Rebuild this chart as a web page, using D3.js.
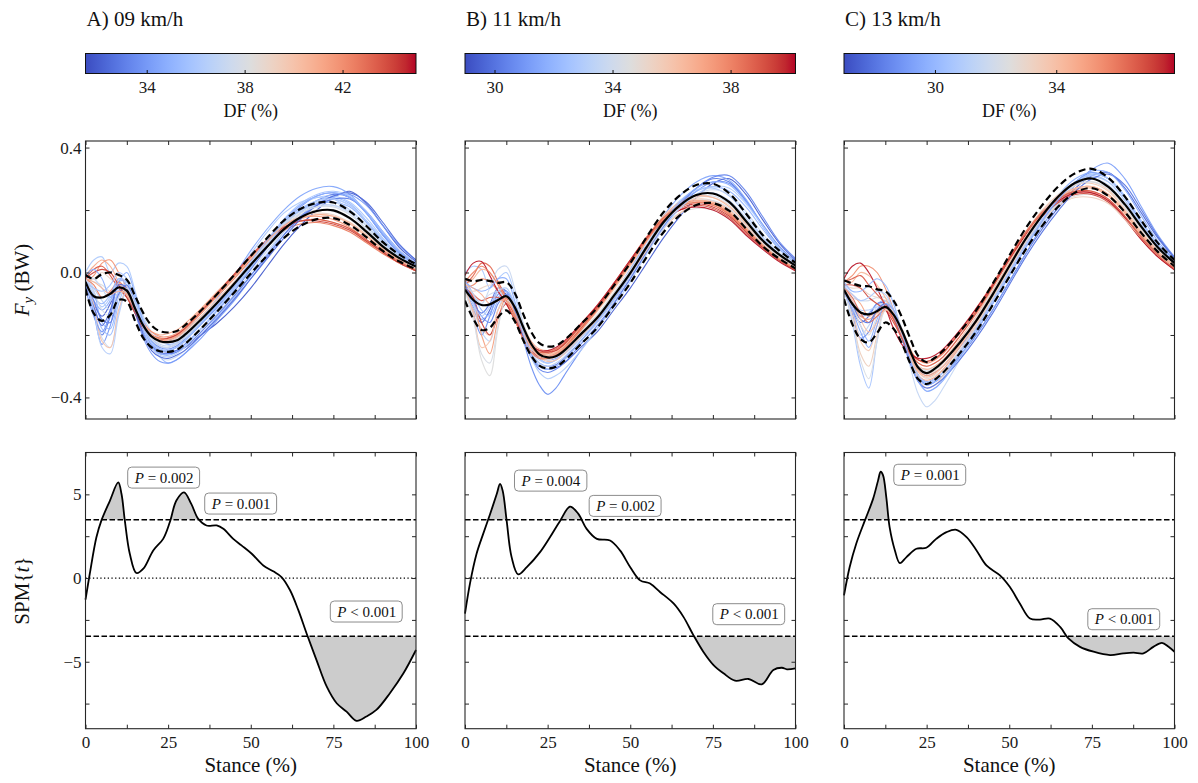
<!DOCTYPE html>
<html>
<head>
<meta charset="utf-8">
<script src="https://cdn.jsdelivr.net/npm/d3@7"></script>
<style>
  html, body { margin: 0; padding: 0; background: #ffffff; }
  svg, svg text { font-family: "Liberation Serif", "Times New Roman", Times, "DejaVu Serif", serif; }
</style>
</head>
<body>
<svg id="fig" width="1198" height="783"></svg>
<script>
// ---------------- data ----------------
const speedTitles = ["A) 09 km/h", "B) 11 km/h", "C) 13 km/h"];

// dorsiflexion colour ranges and ticks
const dfRangeA = [31.5, 45.0], dfRangeB = [29.0, 40.2], dfRangeC = [27.0, 37.9];
const dfTicksA = [34, 38, 42], dfTicksB = [30, 34, 38], dfTicksC = [30, 34];

// normalised stance (%) used by the force curves
const stanceGrid = [0, 2.5, 5, 7.5, 10, 12.5, 15, 17.5, 20, 22.5, 25, 27.5, 30, 35, 40, 45, 50, 55, 60, 65, 70, 75, 80, 85, 90, 95, 100];

// group mean and SD of Fy (BW)
const meanA = [-0.030,-0.076,-0.080,-0.068,-0.048,-0.058,-0.115,-0.170,-0.205,-0.220,-0.223,-0.218,-0.200,-0.150,-0.095,-0.036,0.025,0.083,0.138,0.176,0.197,0.199,0.174,0.131,0.083,0.046,0.019];
const sdA   = [0.022,0.055,0.075,0.068,0.040,0.035,0.040,0.040,0.035,0.032,0.031,0.030,0.030,0.029,0.028,0.028,0.028,0.028,0.028,0.027,0.026,0.025,0.022,0.018,0.014,0.011,0.008];
const meanB = [-0.055,-0.088,-0.104,-0.102,-0.088,-0.076,-0.110,-0.172,-0.228,-0.262,-0.272,-0.268,-0.250,-0.198,-0.145,-0.075,-0.002,0.082,0.160,0.215,0.248,0.253,0.225,0.165,0.103,0.058,0.022];
const sdB   = [0.035,0.060,0.080,0.075,0.055,0.045,0.045,0.042,0.038,0.036,0.035,0.034,0.033,0.032,0.032,0.032,0.032,0.032,0.032,0.032,0.032,0.031,0.028,0.024,0.018,0.013,0.009];
const meanC = [-0.055,-0.100,-0.128,-0.134,-0.124,-0.110,-0.135,-0.185,-0.250,-0.305,-0.322,-0.308,-0.285,-0.225,-0.155,-0.070,0.020,0.108,0.183,0.245,0.287,0.301,0.274,0.218,0.146,0.080,0.030];
const sdC   = [0.030,0.065,0.085,0.090,0.070,0.050,0.045,0.042,0.040,0.037,0.035,0.035,0.035,0.034,0.034,0.034,0.034,0.034,0.033,0.032,0.031,0.031,0.029,0.025,0.020,0.014,0.010];

// individual runners: dorsiflexion (%) and Fy (BW) over the stance grid
const dfA = [32.0, 33.0, 33.8, 34.5, 35.0, 35.5, 36.2, 36.8, 37.3, 38.2, 39.0, 40.0, 41.0, 41.8, 42.5, 43.5, 34.0, 36.0, 35.2, 37.0, 33.2, 44.0, 32.5, 34.8, 36.5, 37.8, 40.8, 35.8];
const fyA = [
  [-0.02,-0.10,-0.14,-0.10,-0.05,-0.07,-0.13,-0.19,-0.23,-0.25,-0.255,-0.25,-0.24,-0.20,-0.16,-0.11,-0.05,0.02,0.09,0.15,0.20,0.24,0.26,0.22,0.15,0.08,0.035],
  [-0.01,-0.12,-0.20,-0.14,-0.04,-0.05,-0.12,-0.19,-0.24,-0.26,-0.26,-0.25,-0.23,-0.18,-0.12,-0.06,0.01,0.08,0.15,0.20,0.23,0.25,0.24,0.19,0.12,0.065,0.03],
  [-0.03,-0.13,-0.23,-0.17,-0.06,-0.04,-0.10,-0.17,-0.22,-0.24,-0.245,-0.235,-0.215,-0.165,-0.11,-0.05,0.02,0.09,0.16,0.21,0.245,0.255,0.24,0.19,0.12,0.06,0.025],
  [-0.04,-0.09,-0.12,-0.09,-0.03,-0.03,-0.09,-0.16,-0.21,-0.235,-0.24,-0.23,-0.21,-0.15,-0.08,-0.01,0.07,0.14,0.20,0.245,0.27,0.275,0.25,0.19,0.12,0.065,0.03],
  [-0.02,-0.06,-0.16,-0.18,-0.08,-0.03,-0.08,-0.15,-0.20,-0.22,-0.23,-0.225,-0.21,-0.16,-0.10,-0.04,0.03,0.10,0.16,0.20,0.22,0.225,0.21,0.16,0.10,0.05,0.02],
  [-0.03,-0.10,-0.18,-0.20,-0.10,-0.04,-0.09,-0.17,-0.23,-0.27,-0.29,-0.28,-0.26,-0.20,-0.14,-0.08,-0.01,0.06,0.13,0.19,0.23,0.24,0.22,0.165,0.10,0.05,0.02],
  [0.00,0.04,0.05,0.00,0.03,0.02,-0.06,-0.15,-0.20,-0.22,-0.22,-0.21,-0.19,-0.13,-0.07,-0.01,0.06,0.13,0.19,0.225,0.24,0.235,0.20,0.15,0.09,0.045,0.015],
  [-0.01,-0.05,-0.09,-0.12,-0.06,-0.03,-0.07,-0.14,-0.19,-0.21,-0.215,-0.21,-0.19,-0.14,-0.09,-0.035,0.03,0.10,0.16,0.20,0.225,0.225,0.20,0.15,0.095,0.05,0.02],
  [-0.03,-0.11,-0.21,-0.24,-0.13,-0.05,-0.10,-0.18,-0.24,-0.27,-0.28,-0.27,-0.25,-0.19,-0.13,-0.07,0.00,0.07,0.13,0.18,0.21,0.215,0.195,0.15,0.095,0.05,0.02],
  [-0.02,-0.03,-0.04,-0.06,-0.04,-0.05,-0.11,-0.17,-0.21,-0.225,-0.225,-0.215,-0.195,-0.14,-0.085,-0.03,0.035,0.095,0.15,0.185,0.20,0.195,0.17,0.125,0.08,0.04,0.015],
  [-0.03,-0.02,0.00,-0.02,-0.04,-0.07,-0.12,-0.17,-0.20,-0.21,-0.21,-0.20,-0.18,-0.125,-0.07,-0.015,0.045,0.10,0.15,0.18,0.19,0.185,0.16,0.12,0.075,0.04,0.012],
  [-0.02,-0.10,-0.22,-0.24,-0.12,-0.06,-0.10,-0.16,-0.20,-0.215,-0.22,-0.21,-0.19,-0.14,-0.085,-0.03,0.03,0.09,0.14,0.17,0.185,0.18,0.16,0.12,0.075,0.04,0.012],
  [-0.01,0.02,0.04,0.02,-0.03,-0.07,-0.12,-0.17,-0.19,-0.20,-0.195,-0.185,-0.165,-0.115,-0.06,-0.005,0.05,0.10,0.145,0.165,0.17,0.16,0.14,0.10,0.065,0.03,0.008],
  [-0.03,-0.01,0.03,0.04,0.00,-0.05,-0.11,-0.16,-0.19,-0.205,-0.205,-0.195,-0.175,-0.12,-0.065,-0.01,0.05,0.105,0.15,0.175,0.18,0.17,0.145,0.105,0.065,0.03,0.005],
  [-0.02,-0.04,-0.08,-0.06,-0.03,-0.06,-0.12,-0.17,-0.20,-0.21,-0.21,-0.20,-0.18,-0.13,-0.075,-0.02,0.04,0.09,0.135,0.155,0.16,0.15,0.13,0.095,0.06,0.03,0.005],
  [-0.02,0.01,0.02,-0.01,-0.05,-0.08,-0.13,-0.175,-0.20,-0.215,-0.215,-0.205,-0.185,-0.13,-0.07,-0.01,0.05,0.10,0.14,0.165,0.17,0.16,0.14,0.105,0.07,0.035,0.008],
  [-0.05,-0.14,-0.19,-0.13,-0.05,-0.06,-0.13,-0.21,-0.26,-0.285,-0.29,-0.28,-0.26,-0.21,-0.15,-0.09,-0.02,0.05,0.12,0.18,0.22,0.245,0.25,0.215,0.15,0.085,0.04],
  [-0.02,-0.07,-0.11,-0.08,-0.02,-0.03,-0.10,-0.18,-0.23,-0.25,-0.25,-0.24,-0.22,-0.16,-0.10,-0.04,0.03,0.10,0.17,0.215,0.24,0.245,0.225,0.175,0.11,0.055,0.02],
  [-0.04,-0.08,-0.10,-0.07,-0.02,-0.04,-0.11,-0.19,-0.24,-0.26,-0.265,-0.255,-0.235,-0.18,-0.12,-0.055,0.015,0.085,0.15,0.20,0.23,0.235,0.215,0.165,0.105,0.055,0.02],
  [-0.01,-0.02,-0.05,-0.09,-0.05,-0.04,-0.09,-0.16,-0.21,-0.23,-0.235,-0.225,-0.205,-0.15,-0.095,-0.035,0.03,0.095,0.155,0.195,0.215,0.215,0.19,0.14,0.09,0.045,0.015],
  [-0.03,-0.09,-0.15,-0.16,-0.07,-0.04,-0.10,-0.18,-0.235,-0.255,-0.26,-0.255,-0.24,-0.19,-0.135,-0.075,-0.01,0.055,0.12,0.175,0.215,0.235,0.235,0.195,0.13,0.07,0.03],
  [-0.02,0.00,0.01,0.00,-0.04,-0.08,-0.13,-0.18,-0.205,-0.215,-0.21,-0.20,-0.18,-0.125,-0.065,-0.005,0.055,0.105,0.145,0.165,0.165,0.155,0.135,0.10,0.065,0.03,0.005],
  [-0.04,-0.11,-0.17,-0.12,-0.04,-0.05,-0.12,-0.20,-0.25,-0.27,-0.275,-0.265,-0.25,-0.20,-0.145,-0.085,-0.02,0.045,0.11,0.17,0.215,0.245,0.255,0.225,0.16,0.09,0.04],
  [-0.01,0.01,-0.02,-0.08,-0.03,0.00,-0.07,-0.16,-0.22,-0.245,-0.25,-0.24,-0.22,-0.165,-0.105,-0.045,0.025,0.095,0.165,0.215,0.245,0.255,0.24,0.19,0.125,0.065,0.028],
  [-0.03,-0.12,-0.24,-0.26,-0.14,-0.06,-0.10,-0.18,-0.24,-0.265,-0.27,-0.26,-0.24,-0.18,-0.115,-0.05,0.02,0.09,0.155,0.205,0.23,0.235,0.215,0.165,0.105,0.055,0.02],
  [-0.02,-0.06,-0.12,-0.14,-0.08,-0.05,-0.10,-0.17,-0.215,-0.235,-0.24,-0.23,-0.21,-0.155,-0.095,-0.035,0.03,0.095,0.155,0.19,0.21,0.21,0.185,0.14,0.09,0.045,0.015],
  [-0.02,-0.03,-0.05,-0.07,-0.06,-0.07,-0.12,-0.17,-0.20,-0.215,-0.215,-0.205,-0.185,-0.13,-0.075,-0.015,0.045,0.10,0.15,0.175,0.185,0.18,0.155,0.115,0.075,0.04,0.01],
  [-0.03,-0.05,-0.06,-0.04,0.00,-0.02,-0.09,-0.17,-0.225,-0.245,-0.25,-0.24,-0.22,-0.16,-0.10,-0.035,0.035,0.105,0.17,0.22,0.25,0.26,0.245,0.195,0.13,0.07,0.03]
];

const dfB = [29.5, 30.2, 30.8, 31.5, 32.0, 32.8, 33.3, 34.0, 34.6, 35.2, 35.8, 36.5, 37.2, 37.8, 38.5, 39.0, 40.0, 39.5, 33.8, 36.0, 30.5, 31.8, 34.3, 36.8, 38.0, 33.0];
const fyB = [
  [-0.05,-0.12,-0.16,-0.12,-0.06,-0.07,-0.13,-0.21,-0.27,-0.30,-0.31,-0.305,-0.29,-0.24,-0.19,-0.12,-0.05,0.03,0.11,0.18,0.24,0.285,0.30,0.25,0.17,0.095,0.04],
  [-0.04,-0.10,-0.13,-0.10,-0.05,-0.06,-0.12,-0.20,-0.26,-0.29,-0.30,-0.295,-0.275,-0.22,-0.16,-0.09,-0.01,0.07,0.15,0.22,0.27,0.30,0.29,0.23,0.15,0.08,0.035],
  [-0.03,-0.13,-0.20,-0.14,-0.07,-0.06,-0.12,-0.21,-0.30,-0.36,-0.39,-0.37,-0.33,-0.25,-0.18,-0.10,-0.02,0.07,0.15,0.21,0.26,0.29,0.285,0.23,0.155,0.085,0.035],
  [-0.06,-0.11,-0.15,-0.13,-0.08,-0.06,-0.10,-0.17,-0.23,-0.27,-0.28,-0.275,-0.26,-0.20,-0.14,-0.07,0.01,0.10,0.18,0.245,0.29,0.31,0.295,0.235,0.15,0.08,0.03],
  [-0.02,-0.07,-0.12,-0.14,-0.09,-0.06,-0.11,-0.18,-0.24,-0.275,-0.29,-0.28,-0.26,-0.21,-0.15,-0.08,0.00,0.08,0.16,0.22,0.26,0.275,0.26,0.21,0.14,0.075,0.03],
  [0.00,0.02,0.01,-0.05,-0.02,0.00,-0.07,-0.16,-0.24,-0.28,-0.29,-0.28,-0.26,-0.20,-0.14,-0.07,0.01,0.09,0.17,0.23,0.265,0.27,0.245,0.185,0.115,0.06,0.025],
  [-0.04,-0.10,-0.19,-0.22,-0.12,-0.07,-0.11,-0.18,-0.25,-0.29,-0.30,-0.29,-0.27,-0.21,-0.15,-0.08,0.00,0.08,0.16,0.215,0.25,0.255,0.23,0.175,0.11,0.06,0.025],
  [-0.05,-0.08,-0.09,-0.07,-0.06,-0.08,-0.12,-0.18,-0.23,-0.26,-0.27,-0.265,-0.25,-0.195,-0.14,-0.07,0.00,0.08,0.16,0.21,0.24,0.245,0.22,0.165,0.10,0.055,0.02],
  [-0.04,-0.14,-0.28,-0.33,-0.18,-0.08,-0.10,-0.16,-0.22,-0.255,-0.265,-0.26,-0.245,-0.19,-0.135,-0.065,0.005,0.08,0.15,0.19,0.205,0.20,0.17,0.12,0.075,0.04,0.015],
  [-0.05,-0.06,-0.05,-0.04,-0.05,-0.08,-0.13,-0.19,-0.24,-0.27,-0.28,-0.27,-0.25,-0.195,-0.14,-0.07,0.005,0.085,0.16,0.21,0.24,0.24,0.215,0.16,0.10,0.055,0.02],
  [-0.06,-0.12,-0.18,-0.20,-0.12,-0.08,-0.12,-0.18,-0.23,-0.255,-0.26,-0.255,-0.24,-0.185,-0.125,-0.055,0.02,0.10,0.17,0.215,0.235,0.23,0.20,0.145,0.09,0.05,0.018],
  [-0.04,-0.02,0.01,0.00,-0.04,-0.08,-0.13,-0.19,-0.235,-0.26,-0.265,-0.255,-0.235,-0.18,-0.12,-0.05,0.03,0.11,0.18,0.225,0.245,0.24,0.21,0.155,0.095,0.05,0.015],
  [-0.03,-0.08,-0.20,-0.26,-0.15,-0.08,-0.11,-0.17,-0.22,-0.245,-0.25,-0.245,-0.23,-0.175,-0.115,-0.045,0.03,0.105,0.17,0.21,0.225,0.22,0.19,0.14,0.09,0.045,0.015],
  [-0.05,-0.04,-0.02,-0.03,-0.06,-0.10,-0.15,-0.20,-0.24,-0.26,-0.26,-0.25,-0.23,-0.17,-0.11,-0.04,0.035,0.11,0.175,0.215,0.23,0.22,0.19,0.14,0.085,0.045,0.012],
  [-0.04,-0.01,0.03,0.02,-0.03,-0.08,-0.14,-0.20,-0.24,-0.255,-0.255,-0.245,-0.225,-0.165,-0.105,-0.035,0.04,0.115,0.175,0.21,0.225,0.215,0.185,0.135,0.085,0.045,0.01],
  [-0.05,-0.07,-0.09,-0.08,-0.08,-0.10,-0.15,-0.21,-0.25,-0.27,-0.27,-0.26,-0.24,-0.18,-0.115,-0.045,0.03,0.105,0.165,0.20,0.215,0.205,0.175,0.125,0.08,0.04,0.008],
  [-0.01,0.03,0.035,-0.01,-0.06,-0.10,-0.15,-0.20,-0.235,-0.25,-0.25,-0.24,-0.22,-0.165,-0.105,-0.035,0.04,0.11,0.165,0.20,0.21,0.20,0.17,0.12,0.075,0.035,0.005],
  [-0.05,-0.08,-0.16,-0.20,-0.14,-0.10,-0.13,-0.19,-0.23,-0.25,-0.255,-0.25,-0.23,-0.17,-0.11,-0.04,0.035,0.11,0.17,0.205,0.22,0.21,0.18,0.13,0.08,0.04,0.008],
  [-0.03,-0.07,-0.10,-0.05,0.01,0.02,-0.05,-0.16,-0.25,-0.30,-0.31,-0.30,-0.28,-0.22,-0.16,-0.09,-0.01,0.07,0.15,0.21,0.25,0.265,0.25,0.195,0.125,0.065,0.028],
  [-0.05,-0.13,-0.24,-0.22,-0.12,-0.08,-0.12,-0.18,-0.235,-0.27,-0.285,-0.28,-0.26,-0.205,-0.15,-0.08,-0.005,0.07,0.14,0.19,0.22,0.225,0.20,0.15,0.095,0.05,0.018],
  [-0.04,-0.09,-0.14,-0.16,-0.10,-0.07,-0.12,-0.20,-0.27,-0.31,-0.32,-0.31,-0.29,-0.23,-0.17,-0.10,-0.02,0.065,0.145,0.215,0.27,0.305,0.31,0.26,0.18,0.10,0.045],
  [-0.03,-0.05,-0.06,-0.05,-0.02,-0.02,-0.09,-0.18,-0.26,-0.30,-0.31,-0.30,-0.28,-0.22,-0.155,-0.085,-0.005,0.08,0.16,0.225,0.27,0.29,0.28,0.225,0.15,0.08,0.032],
  [-0.06,-0.15,-0.26,-0.29,-0.17,-0.09,-0.11,-0.17,-0.23,-0.265,-0.275,-0.27,-0.255,-0.20,-0.14,-0.07,0.005,0.085,0.16,0.205,0.23,0.23,0.205,0.15,0.095,0.05,0.018],
  [-0.04,-0.05,-0.07,-0.10,-0.09,-0.09,-0.13,-0.19,-0.24,-0.265,-0.27,-0.26,-0.24,-0.185,-0.12,-0.05,0.025,0.10,0.17,0.21,0.23,0.225,0.195,0.145,0.09,0.045,0.012],
  [-0.03,0.00,0.02,0.00,-0.04,-0.09,-0.15,-0.21,-0.255,-0.275,-0.275,-0.265,-0.245,-0.185,-0.12,-0.045,0.03,0.105,0.17,0.21,0.225,0.215,0.185,0.135,0.085,0.042,0.01],
  [-0.05,-0.10,-0.14,-0.11,-0.06,-0.05,-0.10,-0.19,-0.27,-0.32,-0.34,-0.33,-0.31,-0.25,-0.18,-0.11,-0.03,0.06,0.14,0.205,0.25,0.275,0.27,0.22,0.15,0.08,0.032]
];

const dfC = [27.8, 28.5, 29.2, 29.8, 30.5, 31.0, 31.5, 32.0, 32.5, 33.0, 33.6, 34.2, 34.8, 35.5, 36.2, 37.0, 37.7, 30.0, 33.3, 35.0, 28.0, 30.8, 32.2, 34.0, 36.6, 29.5];
const fyC = [
  [-0.06,-0.12,-0.16,-0.14,-0.10,-0.10,-0.14,-0.20,-0.27,-0.33,-0.35,-0.34,-0.32,-0.27,-0.20,-0.12,-0.03,0.06,0.14,0.21,0.27,0.31,0.32,0.27,0.19,0.11,0.045],
  [-0.05,-0.13,-0.21,-0.19,-0.12,-0.10,-0.14,-0.20,-0.27,-0.33,-0.36,-0.35,-0.33,-0.26,-0.18,-0.09,0.00,0.09,0.17,0.24,0.29,0.32,0.30,0.24,0.16,0.09,0.04],
  [-0.04,-0.10,-0.14,-0.13,-0.10,-0.09,-0.13,-0.20,-0.28,-0.34,-0.36,-0.35,-0.33,-0.27,-0.20,-0.12,-0.03,0.06,0.15,0.22,0.28,0.33,0.35,0.30,0.21,0.12,0.05],
  [-0.05,-0.11,-0.17,-0.22,-0.15,-0.09,-0.12,-0.18,-0.25,-0.31,-0.33,-0.32,-0.30,-0.24,-0.17,-0.08,0.01,0.10,0.18,0.25,0.30,0.32,0.30,0.24,0.16,0.085,0.035],
  [-0.05,-0.16,-0.30,-0.37,-0.22,-0.11,-0.12,-0.19,-0.27,-0.33,-0.355,-0.345,-0.32,-0.25,-0.17,-0.08,0.01,0.10,0.18,0.245,0.29,0.31,0.29,0.23,0.15,0.08,0.03],
  [-0.06,-0.09,-0.12,-0.12,-0.11,-0.10,-0.13,-0.19,-0.27,-0.34,-0.38,-0.37,-0.34,-0.27,-0.19,-0.10,-0.01,0.08,0.16,0.23,0.28,0.305,0.29,0.23,0.155,0.085,0.035],
  [-0.04,-0.12,-0.20,-0.17,-0.11,-0.10,-0.14,-0.21,-0.30,-0.39,-0.43,-0.41,-0.37,-0.28,-0.19,-0.10,-0.01,0.08,0.16,0.23,0.28,0.30,0.28,0.22,0.145,0.08,0.03],
  [-0.06,-0.08,-0.09,-0.09,-0.08,-0.08,-0.12,-0.18,-0.25,-0.30,-0.31,-0.30,-0.28,-0.22,-0.15,-0.065,0.025,0.115,0.19,0.25,0.29,0.30,0.275,0.215,0.14,0.075,0.028],
  [-0.05,-0.10,-0.17,-0.20,-0.14,-0.10,-0.13,-0.19,-0.26,-0.32,-0.34,-0.33,-0.31,-0.25,-0.17,-0.08,0.01,0.10,0.17,0.22,0.245,0.25,0.23,0.18,0.115,0.06,0.02],
  [-0.04,-0.05,-0.05,-0.07,-0.08,-0.09,-0.13,-0.19,-0.26,-0.31,-0.325,-0.315,-0.29,-0.225,-0.15,-0.06,0.03,0.115,0.19,0.245,0.28,0.29,0.265,0.205,0.135,0.07,0.025],
  [-0.06,-0.12,-0.22,-0.25,-0.17,-0.11,-0.13,-0.18,-0.24,-0.29,-0.30,-0.29,-0.27,-0.205,-0.13,-0.045,0.045,0.13,0.20,0.25,0.28,0.285,0.26,0.20,0.13,0.07,0.022],
  [-0.04,-0.03,0.00,-0.01,-0.04,-0.08,-0.14,-0.20,-0.26,-0.30,-0.31,-0.30,-0.28,-0.215,-0.14,-0.05,0.04,0.12,0.19,0.24,0.27,0.275,0.25,0.19,0.12,0.065,0.02],
  [-0.05,-0.07,-0.10,-0.14,-0.12,-0.11,-0.15,-0.21,-0.28,-0.33,-0.345,-0.335,-0.31,-0.24,-0.16,-0.07,0.025,0.11,0.185,0.235,0.265,0.27,0.245,0.19,0.125,0.065,0.02],
  [-0.03,-0.01,0.02,0.02,0.00,-0.05,-0.12,-0.20,-0.25,-0.28,-0.29,-0.28,-0.26,-0.19,-0.12,-0.04,0.045,0.12,0.185,0.23,0.255,0.255,0.23,0.175,0.11,0.055,0.015],
  [-0.05,-0.08,-0.13,-0.16,-0.14,-0.12,-0.15,-0.20,-0.25,-0.28,-0.285,-0.275,-0.255,-0.19,-0.115,-0.035,0.05,0.13,0.195,0.24,0.26,0.26,0.235,0.18,0.115,0.06,0.015],
  [-0.04,-0.04,-0.05,-0.08,-0.10,-0.12,-0.16,-0.21,-0.255,-0.28,-0.285,-0.275,-0.255,-0.195,-0.125,-0.045,0.04,0.12,0.18,0.225,0.25,0.25,0.225,0.17,0.105,0.05,0.01],
  [-0.02,0.02,0.03,0.00,-0.05,-0.11,-0.18,-0.23,-0.26,-0.275,-0.275,-0.265,-0.245,-0.185,-0.115,-0.04,0.045,0.12,0.185,0.23,0.255,0.255,0.23,0.175,0.105,0.05,0.008],
  [-0.03,-0.06,-0.06,-0.04,-0.02,-0.04,-0.10,-0.19,-0.28,-0.34,-0.36,-0.35,-0.33,-0.26,-0.18,-0.09,0.00,0.09,0.17,0.24,0.29,0.315,0.30,0.245,0.165,0.09,0.035],
  [-0.05,-0.14,-0.26,-0.30,-0.20,-0.12,-0.13,-0.19,-0.27,-0.34,-0.37,-0.36,-0.33,-0.255,-0.17,-0.08,0.01,0.095,0.165,0.215,0.24,0.24,0.22,0.17,0.11,0.055,0.018],
  [-0.06,-0.10,-0.14,-0.15,-0.13,-0.11,-0.14,-0.20,-0.27,-0.315,-0.33,-0.32,-0.30,-0.23,-0.15,-0.06,0.03,0.115,0.19,0.24,0.27,0.275,0.25,0.195,0.125,0.065,0.02],
  [-0.05,-0.10,-0.15,-0.16,-0.12,-0.10,-0.14,-0.21,-0.29,-0.35,-0.37,-0.36,-0.34,-0.28,-0.21,-0.13,-0.04,0.05,0.13,0.20,0.26,0.30,0.315,0.28,0.20,0.115,0.048],
  [-0.04,-0.07,-0.09,-0.08,-0.06,-0.07,-0.12,-0.19,-0.27,-0.33,-0.35,-0.34,-0.32,-0.255,-0.18,-0.09,0.00,0.09,0.17,0.24,0.29,0.315,0.30,0.245,0.165,0.09,0.035],
  [-0.05,-0.15,-0.28,-0.34,-0.22,-0.12,-0.12,-0.18,-0.25,-0.30,-0.315,-0.305,-0.285,-0.22,-0.145,-0.06,0.03,0.115,0.19,0.245,0.28,0.29,0.27,0.21,0.14,0.075,0.028],
  [-0.05,-0.09,-0.15,-0.19,-0.16,-0.12,-0.14,-0.20,-0.27,-0.32,-0.335,-0.325,-0.30,-0.235,-0.155,-0.065,0.03,0.115,0.19,0.24,0.27,0.275,0.25,0.195,0.125,0.065,0.02],
  [-0.03,-0.02,-0.01,-0.04,-0.07,-0.10,-0.15,-0.21,-0.26,-0.29,-0.30,-0.29,-0.27,-0.205,-0.13,-0.045,0.045,0.125,0.19,0.235,0.26,0.26,0.235,0.18,0.11,0.055,0.012],
  [-0.06,-0.12,-0.19,-0.24,-0.17,-0.10,-0.12,-0.19,-0.28,-0.35,-0.38,-0.37,-0.345,-0.27,-0.19,-0.10,-0.01,0.08,0.165,0.235,0.29,0.325,0.32,0.265,0.18,0.10,0.04]
];

// SPM{t} trajectories (stance %, t value)
const spmXA = [0,1.3,3.3,4.8,7.4,9.9,10.9,11.9,13.4,15.4,17.5,20.5,23.5,25.5,27.5,29.8,32,34.1,36.6,39.7,41.7,44.7,47.2,50.3,53.8,56.8,59.3,61.9,64.4,66.9,69.9,73,76,79,82,85,88,92.1,96.2,100];
const spmTA = [-1.29,0.26,2.44,3.43,4.63,5.71,5.02,3.43,1.45,0.30,0.56,1.65,2.34,3.33,4.63,5.12,4.43,3.54,3.14,3.14,2.94,2.34,1.95,1.45,0.75,0.40,0.06,-0.73,-1.92,-3.31,-4.90,-6.49,-7.48,-7.98,-8.53,-8.27,-7.88,-6.88,-5.69,-4.30];
const spmXB = [0,1.5,3.5,5.5,7.6,9.6,10.6,11.4,12.6,14.1,16.1,18.7,22.7,25.7,28.8,31.8,34.3,36.8,39.9,43.9,46.9,50,53,56,59,63.1,66.1,69.1,72.1,75.2,78.2,81.7,85.8,89.8,93.3,95.9,97.4,100];
const spmTB = [-2.12,-0.33,1.45,2.64,3.83,5.02,5.62,5.22,3.43,1.25,0.22,0.65,1.55,2.44,3.43,4.27,3.83,2.94,2.34,2.24,1.65,0.65,-0.14,-0.33,-0.83,-1.52,-2.32,-3.41,-4.40,-5.20,-5.69,-6.13,-6.03,-6.35,-5.49,-5.36,-5.45,-5.39];
const spmXC = [0,1.7,3.7,6.3,8.8,10.3,11.1,11.8,12.8,13.8,15.4,16.9,18.9,21.9,24.9,27.9,31,34,37.1,40.1,43.1,47.2,50.2,53.2,56.3,59.3,62.3,65.4,67.9,71.4,75.5,80.5,84.5,87.6,90.6,93.6,96.2,98.2,100];
const spmTC = [-1.03,0.65,2.05,3.43,4.73,5.82,6.35,6.15,4.82,3.04,1.65,0.89,1.25,1.75,1.81,2.34,2.74,2.88,2.44,1.65,0.75,0.16,-0.54,-1.52,-2.42,-2.48,-2.42,-2.92,-3.61,-4.11,-4.40,-4.60,-4.50,-4.46,-4.50,-4.11,-3.87,-4.11,-4.40];

// critical thresholds of the SPM t-tests
const tCritical = [3.48, 3.48, 3.48];

// cluster p-values and where their labels sit (stance %, t)
const clusterTextA = ["= 0.002", "= 0.001", "< 0.001"];
const clusterAtA = [[23.8, 6.0], [47.1, 4.45], [85.1, -2.0]];
const clusterTextB = ["= 0.004", "= 0.002", "< 0.001"];
const clusterAtB = [[26.0, 5.82], [48.6, 4.31], [86.0, -2.16]];
const clusterTextC = ["= 0.001", "< 0.001"];
const clusterAtC = [[26.1, 6.17], [84.8, -2.46]];

// ---------------- layout ----------------
const panelLeft = [85.5, 465, 844];
const panelWidth = 330.5;
const cbTop = 53.5, cbBottom = 73.5;
const fTop = 141, fBottom = 419;
const sTop = 452.5, sBottom = 728.7;
const fyDomain = [-0.469, 0.421];
const spmDomain = [-9, 7.5];
const axisColor = "#262626";
const serif = '"Liberation Serif", "Times New Roman", Times, "DejaVu Serif", serif';

// matplotlib-style coolwarm diverging map
const coolwarmStops = ["#3b4cc0","#445acc","#4d68d7","#5775e1","#6282ea","#6c8ef1","#779af7","#82a5fb","#8db0fe","#98b9ff","#a3c2ff","#aec9fd","#b8d0f9","#c2d5f4","#ccd9ee","#d5dbe6","#dddddd","#e5d8d1","#ecd3c5","#f1ccb9","#f5c4ad","#f7bba0","#f7b194","#f7a687","#f49a7b","#f18d6f","#ec7f63","#e57058","#de604d","#d55042","#cb3e38","#c0282f","#b40426"];
const coolwarm = d3.piecewise(d3.interpolateRgb, coolwarmStops);

const panels = [
  { title: speedTitles[0], dfRange: dfRangeA, dfTicks: dfTicksA, df: dfA, fy: fyA, mean: meanA, sd: sdA, spmX: spmXA, spmT: spmTA, thr: tCritical[0], cText: clusterTextA, cAt: clusterAtA },
  { title: speedTitles[1], dfRange: dfRangeB, dfTicks: dfTicksB, df: dfB, fy: fyB, mean: meanB, sd: sdB, spmX: spmXB, spmT: spmTB, thr: tCritical[1], cText: clusterTextB, cAt: clusterAtB },
  { title: speedTitles[2], dfRange: dfRangeC, dfTicks: dfTicksC, df: dfC, fy: fyC, mean: meanC, sd: sdC, spmX: spmXC, spmT: spmTC, thr: tCritical[2], cText: clusterTextC, cAt: clusterAtC }
];

const svg = d3.select("#fig");
const defs = svg.append("defs");

function txt(sel, size) {
  return sel.style("font-family", serif).attr("font-size", size).attr("fill", "#111");
}

function styleAxis(g) {
  g.attr("font-size", 17).attr("color", axisColor).attr("font-family", null);
  g.selectAll(".domain").remove();
  g.selectAll(".tick line").attr("stroke-width", 1);
  g.selectAll(".tick text").style("font-family", serif).attr("fill", "#1a1a1a");
}

function drawFrame(g, x, y, yTicks, showX, showY, yLabelled, yFmt) {
  const [x0, x1] = x.range();
  const [yb, yt] = y.range();
  const xTicks = d3.range(0, 100.01, 12.5);
  const xFmt = d => (showX && d % 25 === 0) ? d3.format("d")(d) : "";
  g.append("g").attr("transform", `translate(0,${yb})`)
    .call(d3.axisBottom(x).tickValues(xTicks).tickSizeInner(-4).tickSizeOuter(0).tickPadding(7.3).tickFormat(xFmt))
    .call(styleAxis);
  g.append("g").attr("transform", `translate(0,${yt})`)
    .call(d3.axisTop(x).tickValues(xTicks).tickSizeInner(-4).tickSizeOuter(0).tickFormat(""))
    .call(styleAxis);
  g.append("g").attr("transform", `translate(${x0},0)`)
    .call(d3.axisLeft(y).tickValues(yTicks).tickSizeInner(-4).tickSizeOuter(0).tickPadding(4)
      .tickFormat(d => (showY && yLabelled.includes(d)) ? yFmt(d) : ""))
    .call(styleAxis);
  g.append("g").attr("transform", `translate(${x1},0)`)
    .call(d3.axisRight(y).tickValues(yTicks).tickSizeInner(-4).tickSizeOuter(0).tickFormat(""))
    .call(styleAxis);
  g.append("rect").attr("x", x0).attr("y", yt).attr("width", x1 - x0).attr("height", yb - yt)
    .attr("fill", "none").attr("stroke", axisColor).attr("stroke-width", 1.1);
}

panels.forEach((p, i) => {
  const L = panelLeft[i], R = L + panelWidth;
  const x = d3.scaleLinear().domain([0, 100]).range([L, R]);
  const yF = d3.scaleLinear().domain(fyDomain).range([fBottom, fTop]);
  const yS = d3.scaleLinear().domain(spmDomain).range([sBottom, sTop]);
  const g = svg.append("g");

  // title
  txt(g.append("text").attr("x", L + 1).attr("y", 25.5), 21).text(p.title);

  // colour bar
  const dfScale = d3.scaleLinear().domain(p.dfRange).range([L, R]);
  const dfColor = v => coolwarm((v - p.dfRange[0]) / (p.dfRange[1] - p.dfRange[0]));
  const grad = defs.append("linearGradient").attr("id", "cb" + i)
    .attr("x1", "0%").attr("x2", "100%").attr("y1", "0%").attr("y2", "0%");
  coolwarmStops.forEach((c, k) => grad.append("stop")
    .attr("offset", (k / (coolwarmStops.length - 1) * 100) + "%").attr("stop-color", c));
  g.append("rect").attr("x", L).attr("y", cbTop).attr("width", panelWidth).attr("height", cbBottom - cbTop)
    .attr("fill", `url(#cb${i})`);
  g.append("g").attr("transform", `translate(0,${cbBottom})`)
    .call(d3.axisBottom(dfScale).tickValues(p.dfTicks).tickSizeInner(-3.5).tickSizeOuter(0).tickPadding(7.5).tickFormat(d3.format("d")))
    .call(styleAxis)
    .call(a => a.selectAll(".tick line").attr("stroke", "#111"));
  g.append("rect").attr("x", L).attr("y", cbTop).attr("width", panelWidth).attr("height", cbBottom - cbTop)
    .attr("fill", "none").attr("stroke", "#111").attr("stroke-width", 1);
  txt(g.append("text").attr("x", (L + R) / 2).attr("y", 116.5).attr("text-anchor", "middle"), 18).text("DF (%)");

  // ---- force panel ----
  defs.append("clipPath").attr("id", "clipF" + i).append("rect")
    .attr("x", L).attr("y", fTop).attr("width", panelWidth).attr("height", fBottom - fTop);
  const fLine = d3.line().x((d, k) => x(stanceGrid[k])).y(d => yF(d)).curve(d3.curveCatmullRom.alpha(0.5));
  const fg = g.append("g").attr("clip-path", `url(#clipF${i})`);
  fg.selectAll("path.trial").data(p.fy).join("path").attr("class", "trial")
    .attr("d", fLine).attr("fill", "none")
    .attr("stroke", (d, k) => dfColor(p.df[k])).attr("stroke-width", 1.1).attr("stroke-opacity", 0.95);
  const upper = p.mean.map((m, k) => m + p.sd[k]);
  const lower = p.mean.map((m, k) => m - p.sd[k]);
  [upper, lower].forEach(band => fg.append("path").attr("d", fLine(band)).attr("fill", "none")
    .attr("stroke", "#000").attr("stroke-width", 2.2).attr("stroke-dasharray", "7,4"));
  fg.append("path").attr("d", fLine(p.mean)).attr("fill", "none").attr("stroke", "#000").attr("stroke-width", 2.2);
  drawFrame(g, x, yF, [-0.4, -0.2, 0, 0.2, 0.4], false, i === 0, [-0.4, 0, 0.4], d3.format(".1f"));

  // ---- SPM panel ----
  const spm = p.spmX.map((s, k) => [s, p.spmT[k]]);
  const curve = d3.curveCatmullRom.alpha(0.5);
  defs.append("clipPath").attr("id", "clipUp" + i).append("rect")
    .attr("x", L).attr("y", sTop).attr("width", panelWidth).attr("height", yS(p.thr) - sTop);
  defs.append("clipPath").attr("id", "clipDn" + i).append("rect")
    .attr("x", L).attr("y", yS(-p.thr)).attr("width", panelWidth).attr("height", sBottom - yS(-p.thr));
  const areaUp = d3.area().x(d => x(d[0])).y0(yS(p.thr)).y1(d => yS(d[1])).curve(curve);
  const areaDn = d3.area().x(d => x(d[0])).y0(yS(-p.thr)).y1(d => yS(d[1])).curve(curve);
  g.append("path").attr("d", areaUp(spm)).attr("fill", "#cccccc").attr("clip-path", `url(#clipUp${i})`);
  g.append("path").attr("d", areaDn(spm)).attr("fill", "#cccccc").attr("clip-path", `url(#clipDn${i})`);
  [p.thr, -p.thr].forEach(t => g.append("line").attr("x1", L).attr("x2", R).attr("y1", yS(t)).attr("y2", yS(t))
    .attr("stroke", "#000").attr("stroke-width", 1.4).attr("stroke-dasharray", "5.5,2.5"));
  g.append("line").attr("x1", L).attr("x2", R).attr("y1", yS(0)).attr("y2", yS(0))
    .attr("stroke", "#000").attr("stroke-width", 1.3).attr("stroke-dasharray", "1.3,2.4");
  g.append("path").attr("d", d3.line().x(d => x(d[0])).y(d => yS(d[1])).curve(curve)(spm))
    .attr("fill", "none").attr("stroke", "#000").attr("stroke-width", 1.8);
  drawFrame(g, x, yS, [-7.5, -5, -2.5, 0, 2.5, 5], true, i === 0, [-5, 0, 5], d3.format("d"));

  // cluster p-value labels
  p.cText.forEach((label, k) => {
    const [cx, ct] = p.cAt[k];
    const lg = g.append("g");
    const t = txt(lg.append("text").attr("x", x(cx)).attr("y", yS(ct)).attr("text-anchor", "middle")
      .attr("dominant-baseline", "central"), 15);
    t.append("tspan").attr("font-style", "italic").text("P");
    t.append("tspan").text(" " + label);
    const bb = t.node().getBBox();
    lg.insert("rect", "text").attr("x", bb.x - 6).attr("y", bb.y - 2.5)
      .attr("width", bb.width + 12).attr("height", bb.height + 5).attr("rx", 4)
      .attr("fill", "#fff").attr("stroke", "#8c8c8c").attr("stroke-width", 1);
  });

  // x label
  txt(g.append("text").attr("x", (L + R) / 2).attr("y", 771.5).attr("text-anchor", "middle"), 21).text("Stance (%)");
});

// y-axis labels
const fyLabel = txt(svg.append("text").attr("transform", `translate(29,${(fTop + fBottom) / 2}) rotate(-90)`)
  .attr("text-anchor", "middle"), 21);
fyLabel.append("tspan").attr("font-style", "italic").text("F");
fyLabel.append("tspan").attr("font-style", "italic").attr("font-size", 15).attr("dy", 4).text("y");
fyLabel.append("tspan").attr("dy", -4).text(" (BW)");

const spmLabel = txt(svg.append("text").attr("transform", `translate(29,${(sTop + sBottom) / 2}) rotate(-90)`)
  .attr("text-anchor", "middle"), 21);
spmLabel.append("tspan").text("SPM{");
spmLabel.append("tspan").attr("font-style", "italic").text("t");
spmLabel.append("tspan").text("}");
</script>
</body>
</html>
